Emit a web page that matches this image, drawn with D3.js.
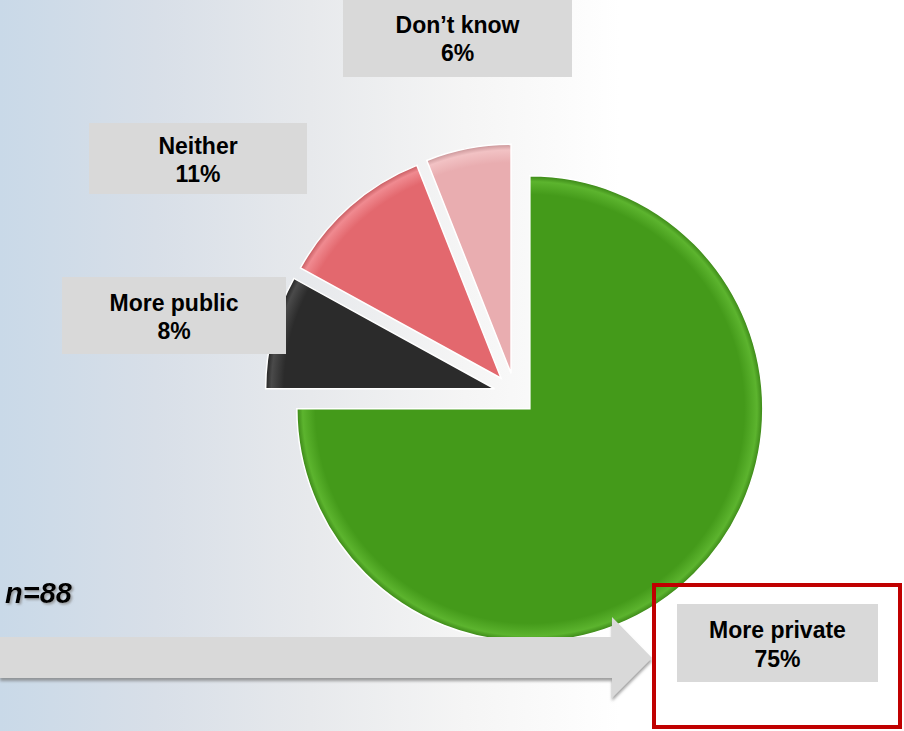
<!DOCTYPE html>
<html>
<head>
<meta charset="utf-8">
<script src="https://cdnjs.cloudflare.com/ajax/libs/d3/7.8.5/d3.min.js"></script>
<style>
  body { margin: 0; background: #fff; }
  svg { display: block; font-family: "Liberation Sans", Arial, sans-serif; }
</style>
</head>
<body>
<div id="chart"></div>
<script>
(function(){

  // chart data
  var categories = ["More private", "More public", "Neither", "Don\u2019t know"];
  var values = [75, 8, 11, 6];
  var sampleLabel = "n=88";

  var sliceColors = ["#449a1a", "#2b2b2b", "#e3686e", "#e9adb0"];
  var rimColors = ["#5cb42e", "#4a4a4a", "#f08a90", "#f2c2c4"];

  // label boxes (layout only)
  var boxes = [
    {x: 677, y: 604, w: 201, h: 78},
    {x: 62, y: 277, w: 224, h: 77},
    {x: 89, y: 123, w: 218, h: 71},
    {x: 343, y: -2, w: 229, h: 79}
  ];

  var width = 904, height = 731;
  var cx = 515, cy = 394, explode = 21;

  var data = categories.map(function(c, i){ return {name: c, value: values[i]}; });

  var svg = d3.select("#chart").append("svg")
    .attr("width", width)
    .attr("height", height);

  var defs = svg.append("defs");

  var bg = defs.append("linearGradient").attr("id", "bg")
    .attr("x1", 0).attr("x2", 1).attr("y1", 0).attr("y2", 0);
  bg.append("stop").attr("offset", 0).attr("stop-color", "#c9d9e8");
  bg.append("stop").attr("offset", 0.25).attr("stop-color", "#d8dfe8");
  bg.append("stop").attr("offset", 0.5).attr("stop-color", "#e7e9ec");
  bg.append("stop").attr("offset", 0.75).attr("stop-color", "#f5f5f5");
  bg.append("stop").attr("offset", 1).attr("stop-color", "#ffffff");

  var shadow = defs.append("filter").attr("id", "shadow")
    .attr("x", "-5%").attr("y", "-20%").attr("width", "110%").attr("height", "160%");
  shadow.append("feDropShadow").attr("dx", 0).attr("dy", 3).attr("stdDeviation", 1.5)
    .attr("flood-color", "#777").attr("flood-opacity", 0.7);

  var textShadow = defs.append("filter").attr("id", "tshadow");
  textShadow.append("feDropShadow").attr("dx", 1.5).attr("dy", 1.5).attr("stdDeviation", 1)
    .attr("flood-color", "#888").attr("flood-opacity", 0.8);

  svg.append("rect")
    .attr("width", 620).attr("height", height)
    .attr("fill", "url(#bg)");

  // pie
  function outer(i){ return i === 0 ? 233 : 229; }
  var pie = d3.pie().value(function(d){ return d.value; }).sort(null);
  var arc = d3.arc().innerRadius(0).outerRadius(function(d){ return outer(d.index); });
  var arcs = pie(data);

  arcs.forEach(function(d, i){
    var g = defs.append("radialGradient").attr("id", "slice" + i)
      .attr("gradientUnits", "userSpaceOnUse")
      .attr("cx", 0).attr("cy", 0).attr("r", outer(i));
    g.append("stop").attr("offset", 0).attr("stop-color", sliceColors[i]);
    g.append("stop").attr("offset", 0.92).attr("stop-color", sliceColors[i]);
    g.append("stop").attr("offset", 0.975).attr("stop-color", rimColors[i]);
    g.append("stop").attr("offset", 1).attr("stop-color", d3.color(sliceColors[i]).darker(0.4));
  });

  svg.append("g")
    .selectAll("path")
    .data(arcs)
    .enter()
    .append("path")
    .attr("transform", function(d){
      var mid = (d.startAngle + d.endAngle) / 2;
      var x = cx + Math.sin(mid) * explode;
      var y = cy - Math.cos(mid) * explode;
      return "translate(" + x + "," + y + ")";
    })
    .attr("d", arc)
    .attr("fill", function(d, i){ return "url(#slice" + i + ")"; })
    .attr("stroke", "#fff")
    .attr("stroke-width", 1.5);

  // arrow
  svg.append("path")
    .attr("d", "M0,637 L612,637 L612,617 L652,658 L612,698 L612,678 L0,678 Z")
    .attr("fill", "#d9d9d9")
    .attr("filter", "url(#shadow)");

  // highlight frame
  svg.append("rect")
    .attr("x", 654).attr("y", 585).attr("width", 246).attr("height", 142)
    .attr("fill", "none")
    .attr("stroke", "#c00000")
    .attr("stroke-width", 4);

  // labels
  var labels = svg.append("g").selectAll("g")
    .data(data)
    .enter()
    .append("g");

  labels.append("rect")
    .attr("x", function(d, i){ return boxes[i].x; })
    .attr("y", function(d, i){ return boxes[i].y; })
    .attr("width", function(d, i){ return boxes[i].w; })
    .attr("height", function(d, i){ return boxes[i].h; })
    .attr("fill", "#d9d9d9");

  labels.append("text")
    .attr("x", function(d, i){ return boxes[i].x + boxes[i].w / 2; })
    .attr("y", function(d, i){ return boxes[i].y + boxes[i].h / 2 - 5; })
    .attr("text-anchor", "middle")
    .attr("font-size", 23)
    .attr("font-weight", "bold")
    .attr("fill", "#000")
    .text(function(d){ return d.name; });

  labels.append("text")
    .attr("x", function(d, i){ return boxes[i].x + boxes[i].w / 2; })
    .attr("y", function(d, i){ return boxes[i].y + boxes[i].h / 2 + 23.5; })
    .attr("text-anchor", "middle")
    .attr("font-size", 23)
    .attr("font-weight", "bold")
    .attr("fill", "#000")
    .text(function(d){ return d.value + "%"; });

  svg.append("text")
    .attr("x", 5)
    .attr("y", 603)
    .attr("font-size", 29)
    .attr("font-weight", "bold")
    .attr("font-style", "italic")
    .attr("filter", "url(#tshadow)")
    .text(sampleLabel);

})();
</script>
</body>
</html>
